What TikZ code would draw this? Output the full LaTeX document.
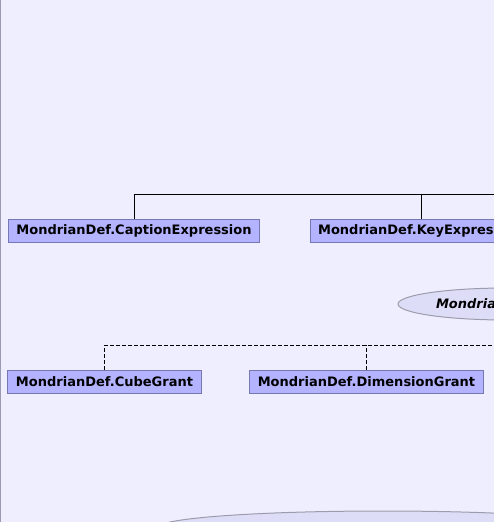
\documentclass[tikz,border=0pt]{standalone}
\usepackage{fontspec}
\setmainfont{DejaVu Sans}
\usepackage{xcolor}
\definecolor{canvascol}{HTML}{EEEEFF}
\definecolor{edgecol}{HTML}{9A9AB0}
\definecolor{classfill}{HTML}{B3B3FF}
\definecolor{classline}{HTML}{7878B0}
\definecolor{ifacefill}{HTML}{DDDDF8}
\definecolor{ifaceline}{HTML}{9C9CAC}
\usetikzlibrary{shapes.geometric}

\begin{document}
\begin{tikzpicture}[x=1pt,y=-1pt,
    classbox/.style={draw=classline,fill=classfill,line width=1pt,rectangle,
        minimum height=23pt,inner xsep=8pt,inner ysep=0pt,
        font=\fontsize{13}{15}\selectfont\bfseries},
    ifacebox/.style={draw=ifaceline,fill=ifacefill,line width=1pt,ellipse,
        minimum height=32pt,inner sep=0pt,
        font=\fontsize{13}{15}\selectfont\bfseries\itshape},
    solidlink/.style={draw=black,line width=1pt},
    dashlink/.style={draw=black,line width=1pt,dash pattern=on 4pt off 2pt}]
    \useasboundingbox (0,0) rectangle (494,522);
    \clip (0,0) rectangle (494,522);
    \fill[canvascol] (0,0) rectangle (494,522);
    \draw[edgecol,line width=1pt] (0.5,0) -- (0.5,522);

    % expressions
    \node[classbox] (caption) at (134,230.5) {MondrianDef.CaptionExpression};
    \node[classbox] (key) at (421,230.5) {MondrianDef.KeyExpression};
    \coordinate (exprbus) at (540,194);
    \draw[solidlink] (caption.north) |- (exprbus);
    \draw[solidlink] (key.north) -- (key.north |- exprbus);

    % grants
    \node[ifacebox,minimum width=217pt,text width=141pt,align=left] (grant) at (506.5,304) {Mondria};
    \node[classbox] (cube) at (104.5,381.5) {MondrianDef.CubeGrant};
    \node[classbox] (dimension) at (366.5,381.5) {MondrianDef.DimensionGrant};
    \coordinate (grantbus) at (540,345);
    \draw[dashlink] (cube.north) |- (grantbus);
    \draw[dashlink] (dimension.north) -- (dimension.north |- grantbus);

    \node[ifacebox,minimum width=448pt] (lower) at (383,527) {};
\end{tikzpicture}
\end{document}
